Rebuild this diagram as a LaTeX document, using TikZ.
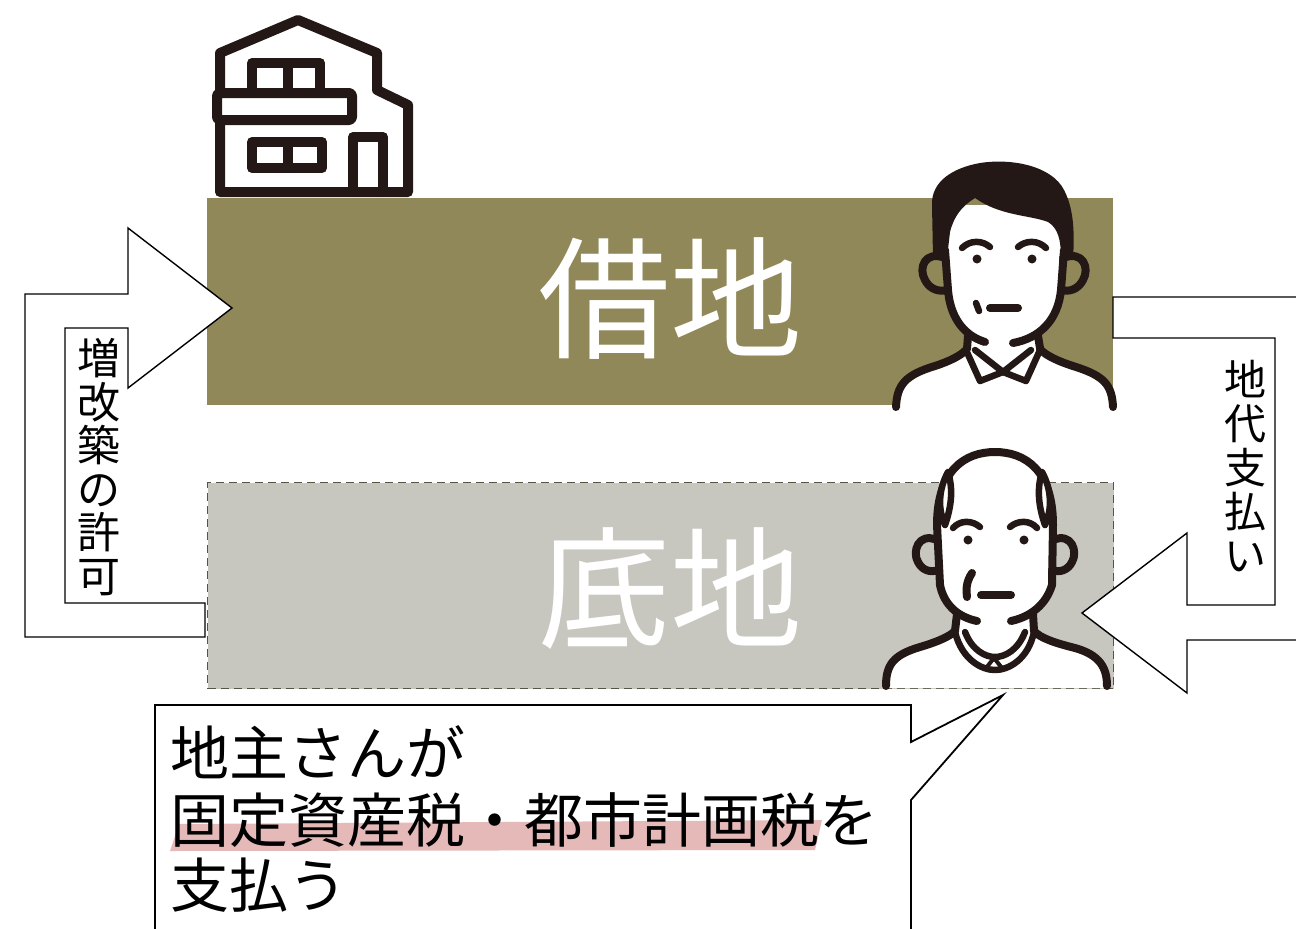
\documentclass[tikz,border=0pt]{standalone}
\usepackage{fontspec}
\newfontfamily\jp{Noto Sans CJK JP}
\definecolor{leaseolive}{RGB}{144,136,88}
\definecolor{landgray}{RGB}{199,199,191}
\definecolor{dashline}{RGB}{85,85,70}
\definecolor{markpink}{RGB}{230,185,185}
\definecolor{ink}{RGB}{35,24,22}
\tikzset{
  inkline/.style={draw=ink, line width=8pt, line cap=round, line join=round},
  thinink/.style={draw=ink, line width=6.5pt, line cap=round, line join=round},
  blockarrow/.style={draw=black, line width=1.4pt, fill=white, line join=miter},
  bigtitle/.style={font=\jp\fontsize{132}{132}\selectfont, text=white, inner sep=0pt},
  vlabel/.style={font=\jp\fontsize{42}{44}\selectfont, align=center, inner sep=0pt},
  bubbletext/.style={font=\jp\fontsize{59}{64}\selectfont, inner sep=0pt, anchor=base west},
}
\begin{document}
\begin{tikzpicture}[x=1pt,y=-1pt]
\useasboundingbox[fill=white] (0,0) rectangle (1296,929);

% --- the two plots of land ---
\node[fill=leaseolive, minimum width=906pt, minimum height=207pt, inner sep=0pt, anchor=north west] (lease) at (207,198) {};
\node[fill=landgray, draw=dashline, line width=1.2pt, dash pattern=on 8pt off 5pt,
      minimum width=906pt, minimum height=206pt, inner sep=0pt, anchor=north west] (base) at (207,482) {};
\node[bigtitle] (leasetitle) at (670,299) {借地};
\node[bigtitle] (basetitle) at (670,589) {底地};

% --- house on the leased land ---
\begin{scope}[draw=ink, line width=10pt, line join=round, line cap=round]
  \draw[fill=white] (220,192) -- (220,53) -- (298,20) -- (377,53) -- (377,90) -- (408,105) -- (408,192) -- cycle;
  \draw (252,63) rectangle (320,93);
  \draw (288,63) -- (288,93);
  \draw[fill=white, rounded corners=3pt] (217,93) rectangle (352,120);
  \draw (252,142) rectangle (322,168);
  \draw (288,142) -- (288,168);
  \draw (353,192) -- (353,137) -- (383,137) -- (383,192);
\end{scope}

% --- tenant (upper) ---
\fill[white] (895,410) .. controls (895,385) and (905,375) .. (935,366)
  .. controls (950,361) and (960,356) .. (966,349) -- (966,330) -- (1040,330) -- (1040,349)
  .. controls (1046,356) and (1060,362) .. (1076,367) .. controls (1104,376) and (1113,390) .. (1114,410) -- cycle;
\fill[white] (942,255) -- (942,205) -- (1058,205) -- (1062,255) -- (1062,290)
  .. controls (1060,320) and (1040,340) .. (1005,345) .. controls (975,345) and (955,325) .. (950,300) -- cycle;
\fill[ink] (933,258) -- (932,205) .. controls (931,182) and (952,168) .. (980,163)
  .. controls (1012,158) and (1052,166) .. (1064,190) .. controls (1073,207) and (1075,230) .. (1073,258)
  -- (1061,258) .. controls (1061,240) and (1058,228) .. (1048,222)
  .. controls (1030,215) and (1000,216) .. (975,198) .. controls (962,206) and (954,216) .. (950,232) -- (947,258) -- cycle;
\draw[inkline] (945,250) -- (948,290) .. controls (950,315) and (962,335) .. (985,342);
\draw[inkline] (1013,343) .. controls (1040,338) and (1058,320) .. (1061,290) -- (1064,250);
\draw[inkline] (945,258) .. controls (925,250) and (918,268) .. (925,280) .. controls (930,290) and (940,292) .. (947,290);
\draw[inkline] (1063,258) .. controls (1083,250) and (1090,268) .. (1083,280) .. controls (1078,290) and (1068,292) .. (1062,290);
\draw[thinink] (962,248) .. controls (970,240) and (982,240) .. (990,247);
\draw[thinink] (1018,247) .. controls (1026,240) and (1038,240) .. (1046,248);
\fill[ink] (977,259) circle[radius=4.5pt];
\fill[ink] (1032,259) circle[radius=4.5pt];
\draw[inkline] (990,308) -- (1018,308);
\draw[thinink] (976,303) -- (979,311);
\draw[inkline] (968,336) -- (967,349);
\draw[inkline] (1038,336) -- (1040,348);
\draw[inkline] (896,407) .. controls (897,385) and (905,375) .. (935,366) .. controls (950,361) and (960,356) .. (966,350);
\draw[inkline] (1113,407) .. controls (1112,385) and (1104,376) .. (1076,367) .. controls (1060,362) and (1046,356) .. (1040,349);
\draw[thinink] (966,350) -- (980,381) -- (1003,372) -- (975,350);
\draw[thinink] (1040,350) -- (1026,381) -- (1003,372) -- (1031,350);

% --- landowner (lower) ---
\fill[white] (885,688) .. controls (885,665) and (893,655) .. (920,647) .. controls (940,641) and (950,636) .. (955,630)
  -- (955,610) -- (1033,610) -- (1033,630)
  .. controls (1040,638) and (1055,643) .. (1075,648) .. controls (1100,655) and (1108,668) .. (1108,688) -- cycle;
\fill[white] (937,525) .. controls (937,470) and (965,452) .. (995,452) .. controls (1025,452) and (1053,470) .. (1053,525)
  -- (1052,585) .. controls (1048,610) and (1025,622) .. (995,622) .. controls (965,622) and (942,610) .. (940,585) -- cycle;
\draw[inkline] (940,585) -- (937,525) .. controls (937,470) and (965,452) .. (995,452)
  .. controls (1025,452) and (1053,470) .. (1053,525) -- (1052,585);
\draw[inkline] (940,585) .. controls (944,605) and (958,617) .. (977,621);
\draw[inkline] (1011,621) .. controls (1030,617) and (1046,605) .. (1052,585);
\draw[thinink, fill=white] (948,472) .. controls (938,490) and (938,510) .. (945,525) .. controls (952,505) and (953,488) .. (948,472);
\draw[thinink, fill=white] (1042,472) .. controls (1052,490) and (1052,510) .. (1045,525) .. controls (1038,505) and (1037,488) .. (1042,472);
\draw[inkline] (937,540) .. controls (918,532) and (912,552) .. (918,562) .. controls (922,570) and (930,573) .. (938,570);
\draw[inkline] (1053,540) .. controls (1072,532) and (1078,552) .. (1072,562) .. controls (1068,570) and (1060,573) .. (1052,570);
\draw[thinink] (953,528) .. controls (960,520) and (972,520) .. (980,527);
\draw[thinink] (1010,527) .. controls (1018,520) and (1030,520) .. (1037,528);
\fill[ink] (968,540) circle[radius=4.5pt];
\fill[ink] (1024,540) circle[radius=4.5pt];
\draw[inkline] (981,595) -- (1011,595);
\draw[inkline] (972,573) .. controls (966,582) and (966,590) .. (967,597);
\draw[inkline] (957,614) -- (955,631);
\draw[inkline] (1033,614) -- (1034,631);
\draw[inkline] (886,686) .. controls (886,665) and (893,655) .. (920,647) .. controls (940,641) and (950,636) .. (955,631);
\draw[inkline] (1107,686) .. controls (1107,668) and (1100,655) .. (1075,648) .. controls (1055,643) and (1040,638) .. (1034,631);
\draw[thinink] (955,632) .. controls (962,660) and (982,670) .. (995,670) .. controls (1008,670) and (1028,660) .. (1034,632);
\draw[thinink] (965,632) .. controls (972,650) and (985,657) .. (995,657) .. controls (1005,657) and (1018,650) .. (1025,632);
\draw[thinink, line width=4pt] (986,668) -- (994,658) -- (1002,668);

% --- block arrow: permission to extend/rebuild ---
\coordinate (permtip) at (232,308);
\filldraw[blockarrow] (128,388) -- (128,328) -- (65,328) -- (65,603) -- (205,603) -- (205,637)
  -- (25,637) -- (25,294) -- (128,294) -- (128,228) -- (permtip) -- cycle;
\node[vlabel, font=\jp\fontsize{43}{43.5}\selectfont] (permit) at (99,467) {増\\改\\築\\の\\許\\可};

% --- block arrow: ground rent payment ---
\coordinate (renttip) at (1082,613);
\filldraw[blockarrow] (1302,297) -- (1113,297) -- (1113,338) -- (1275,338) -- (1275,605) -- (1187,605)
  -- (1187,533) -- (renttip) -- (1187,693) -- (1187,640) -- (1302,640) -- cycle;
\node[vlabel] (rent) at (1245,466) {地\\代\\支\\払\\い};

% --- speech bubble of the landowner ---
\coordinate (bubbletip) at (1003,695);
\filldraw[draw=black, line width=1.8pt, fill=white, line join=miter]
  (155,935) -- (155,705) -- (911,705) -- (911,742) -- (bubbletip) -- (911,800) -- (911,935);
\fill[markpink] (170,851) -- (179,824) -- (822,820) -- (815,850) -- cycle;
\node[bubbletext] (lineA) at (170,775) {地主さんが};
\node[bubbletext] (lineB) at (170,842) {固定資産税・都市計画税を};
\node[bubbletext] (lineC) at (170,907) {支払う};
\end{tikzpicture}
\end{document}
